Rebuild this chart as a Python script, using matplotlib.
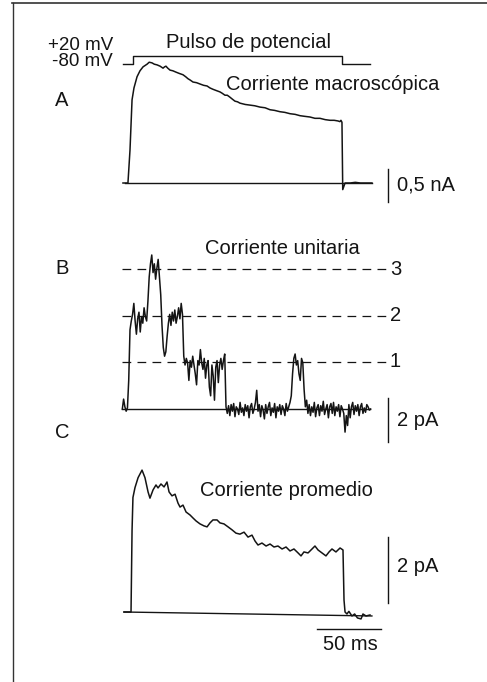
import numpy as np
import matplotlib
matplotlib.use("Agg")
import matplotlib.pyplot as plt
from matplotlib.lines import Line2D

plt.rcParams['font.family'] = ['Liberation Sans', 'DejaVu Sans']

# ---------------- data ----------------
# Voltage pulse (mV) vs time (ms)
pulse_t = [-5.5, 2.3, 2.3, 165.6, 165.6, 187.5]
pulse_v = [-80, -80, 20, 20, -80, -80]

# A: macroscopic current (nA)
tA = [-5.5, -1.6, 0.0, 1.6, 3.1, 5.5, 7.8, 10.2, 13.3, 15.0,
      17.2, 19.0, 21.1, 23.5, 25.8, 27.0, 28.1, 29.5, 31.3, 33.5,
      35.9, 38.5, 41.4, 43.5, 45.3, 47.0, 49.2, 52.0, 54.7, 57.5,
      60.2, 62.5, 64.8, 67.5, 70.3, 72.0, 74.2, 76.0, 78.1, 80.0,
      82.0, 84.0, 85.9, 90.0, 93.8, 97.5, 101.6, 105.5, 109.4, 113.0,
      117.2, 121.0, 125.0, 129.0, 132.8, 136.5, 140.6, 144.5, 148.4, 152.5,
      156.3, 159.5, 162.5, 164.0, 164.8, 165.6, 166.2, 168.0, 172.0, 176.0,
      180.0, 184.0, 189.0]
IA = [0, 0, 0.5, 1.26, 1.44, 1.61, 1.70, 1.76, 1.80, 1.83,
      1.82, 1.80, 1.79, 1.77, 1.74, 1.76, 1.77, 1.74, 1.71, 1.70,
      1.68, 1.66, 1.64, 1.61, 1.58, 1.56, 1.53, 1.52, 1.50, 1.48,
      1.47, 1.44, 1.42, 1.40, 1.38, 1.36, 1.33, 1.33, 1.30, 1.27,
      1.24, 1.23, 1.21, 1.19, 1.18, 1.17, 1.15, 1.14, 1.11, 1.10,
      1.08, 1.07, 1.05, 1.04, 1.02, 1.01, 1.00, 0.98, 0.98, 0.96,
      0.95, 0.95, 0.94, 0.93, 0.95, 0.92, -0.1, 0.0, 0.0, 0.01,
      0.0, 0.0, 0.0]
baseA_t = [-4.0, 189.0]
baseA_I = [0.0, 0.0]

# B: single-channel current (pA), sampled every 1 ms from -6 ms
tB_start, tB_step = -6, 1
IB = [0.0, 0.45, 0.1, -0.1, 0.05,
      1.3,
      3.6, 4.0, 4.3, 4.8, 4.0, 3.4, 4.1, 4.4, 3.5, 4.2, 3.9, 4.6, 4.2, 4.0,
      4.9, 6.0, 6.6, 7.0, 6.2, 6.6, 5.9, 6.4, 6.8, 6.0,
      5.2, 3.8, 2.8, 2.4, 2.6, 3.3, 3.9,
      4.3, 3.8, 4.4, 4.0, 4.5, 3.9, 4.2, 4.6, 4.1, 4.8, 4.3,
      2.4, 2.0, 2.3, 2.1, 1.3, 2.2, 1.9, 2.4, 2.0, 1.6, 1.1, 2.2, 2.0, 2.7,
      2.1, 1.8, 2.3, 1.4, 2.0, 2.2, 1.0, 0.6, 2.0, 1.5, 0.4, 1.9, 2.2, 1.2,
      2.0, 2.3, 1.8, 2.2, 2.5,
      0.1, -0.2, 0.15, -0.3, 0.2, -0.1, 0.25, -0.35, 0.1, 0.0,
      -0.25, 0.3, -0.15, 0.05, -0.3, 0.2, -0.1, 0.15, -0.4, 0.1,
      0.25, -0.2, 0.0, 0.3, 0.85, -0.1, 0.2, -0.35, 0.15, -0.05,
      -0.45, 0.2, -0.2, 0.1, 0.3, -0.3, 0.05, -0.15, 0.25, -0.4,
      0.1, -0.1, 0.2, -0.25, 0.15, 0.0, -0.3, 0.25, -0.1, 0.1,
      0.3, 0.6,
      1.6, 2.3, 2.5, 2.0, 2.2, 1.6, 1.3, 2.3, 2.1, 0.9, 0.1,
      0.4, -0.2, 0.2, -0.3, 0.1, -0.15, 0.3, -0.35, 0.05, 0.2,
      -0.3, 0.15, -0.1, 0.35, -0.25, 0.0, 0.2, -0.4, 0.1, 0.25,
      -0.2, 0.3, -0.3, 0.1, -0.1, 0.2, -0.35, 0.15, 0.0, -0.2,
      -1.05, -0.3, -0.75, 0.2, -0.4, 0.1, 0.3, -0.25, 0.15, -0.1,
      0.2, -0.3, 0.1, 0.25, -0.2, 0.05, -0.15, 0.2, 0.1, -0.05,
      0.0]
baseB_t = [-6.0, 187.5]
baseB_I = [0.0, 0.0]
levels_n = [1, 2, 3]
levels_pA = [2.14, 4.23, 6.36]

# C: averaged current (pA)
tC = [-4.7, 0.8, 1.6, 2.3, 3.9, 6.3, 9.4, 11.7, 14.1, 15.6,
      18.0, 20.3, 21.9, 24.2, 26.6, 28.9, 30.5, 32.8, 35.2, 37.5,
      39.1, 41.4, 43.8, 46.9, 49.2, 51.6, 54.7, 57.8, 60.2, 62.5,
      64.8, 68.0, 70.3, 73.4, 76.6, 79.7, 82.8, 85.9, 89.1, 92.2,
      95.3, 97.7, 100.0, 103.1, 106.3, 109.4, 112.5, 115.6, 118.8, 121.9,
      125.0, 128.1, 131.3, 133.6, 135.9, 139.1, 142.2, 144.5, 146.9, 150.0,
      153.1, 155.5, 157.8, 160.9, 164.1, 166.4, 167.2, 168.0, 169.5, 171.0,
      173.4, 175.5, 177.7, 180.5, 182.0, 184.4, 187.5]
IC = [0.03, 0.03, 2.5, 3.5, 3.8, 4.1, 4.33, 4.1, 3.67, 3.48,
      3.73, 3.88, 3.79, 3.91, 3.82, 3.97, 3.67, 3.55, 3.6, 3.33,
      3.21, 3.27, 3.06, 2.97, 2.88, 2.79, 2.7, 2.64, 2.61, 2.73,
      2.82, 2.82, 2.73, 2.7, 2.61, 2.52, 2.42, 2.39, 2.45, 2.3,
      2.36, 2.18, 2.06, 2.12, 2.03, 2.09, 2.0, 2.03, 1.94, 2.0,
      1.88, 1.94, 1.82, 1.73, 1.85, 1.82, 1.94, 2.03, 1.91, 1.82,
      1.73, 1.85, 1.94, 1.85, 1.97, 1.91, 0.39, 0.03, -0.03, 0.05,
      -0.09, -0.03, -0.15, -0.18, -0.03, -0.09, -0.06]
baseC_t = [-4.7, 189.0]
baseC_I = [0.03, -0.09]

# scale bars
scaleA_nA = 0.5
scaleB_pA = 2
scaleC_pA = 2
scale_ms = 50

# ---------------- layout ----------------
W, H = 487, 682
fig = plt.figure(figsize=(W / 100, H / 100), dpi=100)
fig.patch.set_facecolor('white')

PX_PER_MS = 1.28
T0_PX = 130.0
XLIM = (-T0_PX / PX_PER_MS, (W - T0_PX) / PX_PER_MS)
INK = '#141414'


def panel(base_px, px_per_unit, ref_val=0.0):
    ax = fig.add_axes([0, 0, 1, 1])
    ax.set_xlim(*XLIM)
    lo = ref_val + (base_px - H) / px_per_unit
    hi = ref_val + base_px / px_per_unit
    ax.set_ylim(lo, hi)
    ax.axis('off')
    ax.patch.set_alpha(0)
    return ax


def ftext(x, y, s, **kw):
    kw.setdefault('fontsize', 14.5)
    kw.setdefault('color', INK)
    kw.setdefault('va', 'center')
    fig.text(x / W, 1 - y / H, s, **kw)


def tpos(px):
    return (px - T0_PX) / PX_PER_MS


# frame
fig.add_artist(Line2D([12 / W, 1], [1 - 2.5 / H, 1 - 2.5 / H], color='#333333', lw=1.2))
fig.add_artist(Line2D([12.5 / W, 12.5 / W], [0, 1 - 2.5 / H], color='#333333', lw=1.0))

# pulse
axP = panel(64, 0.08, ref_val=-80)
axP.plot(pulse_t, pulse_v, color=INK, lw=1.0)

# A
axA = panel(183, 66)
axA.plot(baseA_t, baseA_I, color=INK, lw=1.0)
axA.plot(tA, IA, color=INK, lw=1.1)
axA.plot([tpos(388)] * 2, [-0.29, -0.29 + scaleA_nA], color=INK, lw=1.0)

# B
axB = panel(409, 22)
tB = tB_start + tB_step * np.arange(len(IB))
for n, lv in zip(levels_n, levels_pA):
    axB.plot([tpos(122), tpos(386)], [lv, lv], color=INK, lw=0.9,
             dashes=(7, 5))
    axB.text(tpos(390), lv, str(n), fontsize=14.5, color=INK,
             va='center', ha='left')
axB.plot(baseB_t, baseB_I, color=INK, lw=1.0)
axB.plot(tB, IB, color=INK, lw=1.1)
axB.plot([tpos(388)] * 2, [-1.5, -1.5 + scaleB_pA], color=INK, lw=1.0)

# C
axC = panel(613, 33)
axC.plot(baseC_t, baseC_I, color=INK, lw=1.0)
axC.plot(tC, IC, color=INK, lw=1.1)
axC.plot([tpos(388)] * 2, [0.3, 0.3 + scaleC_pA], color=INK, lw=1.0)
axC.plot([tpos(317), tpos(317) + scale_ms], [-0.48, -0.48], color=INK, lw=1.0)

# texts
ftext(113, 45, '+20 mV', ha='right', fontsize=13.5)
ftext(113, 62, '-80 mV', ha='right', fontsize=13.5)
ftext(62, 100, 'A', ha='center')
ftext(249, 42, 'Pulso de potencial', ha='center')
ftext(333, 84, 'Corriente macroscópica', ha='center')
ftext(397, 185, '0,5 nA', ha='left')
ftext(282, 248, 'Corriente unitaria', ha='center')
ftext(62, 268, 'B', ha='center')
ftext(397, 421, '2 pA', ha='left')
ftext(62, 432, 'C', ha='center')
ftext(286, 490, 'Corriente promedio', ha='center')
ftext(397, 567, '2 pA', ha='left')
ftext(350, 645, '50 ms', ha='center')

fig.savefig('out.png', dpi=100, facecolor='white')
